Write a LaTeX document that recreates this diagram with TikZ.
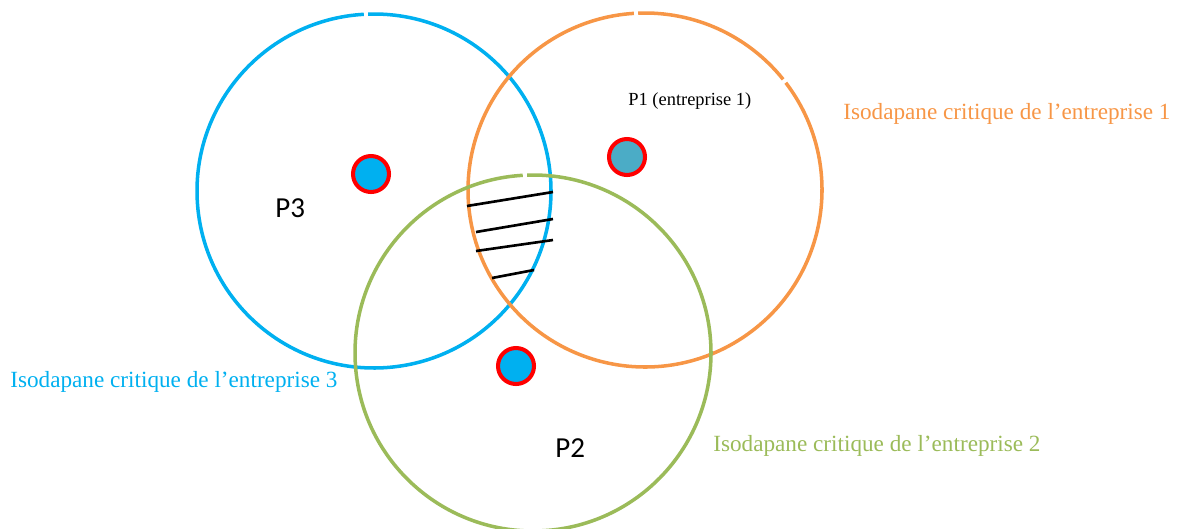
\documentclass[tikz,border=0pt]{standalone}
\usepackage{fontspec}
\setmainfont{Liberation Serif}
\newfontfamily\calibri{Carlito}
\definecolor{isoblue}{HTML}{00B0F0}
\definecolor{isoorange}{HTML}{F79646}
\definecolor{isogreen}{HTML}{9BBB59}
\definecolor{dotteal}{HTML}{4BACC6}
\tikzset{
  iso/.style={line width=2pt},
  site/.style={circle,draw=red,line width=2.3pt,minimum size=0.72cm,inner sep=0pt},
  isolabel/.style={anchor=base west,inner sep=0pt,font=\fontsize{13.2}{15}\selectfont},
  plabel/.style={anchor=base west,inner sep=0pt,font=\calibri\fontsize{16.5}{19}\selectfont}
}
\begin{document}
\begin{tikzpicture}[x=0.02cm,y=-0.02cm]
\useasboundingbox (0,0) rectangle (1185,528);
\clip (0,0) rectangle (1185,528);
% isodapanes
\draw [iso,isoblue] (374,191) ++(-91.9:177) arc [start angle=-91.9,end angle=266.7,radius=177];
\draw [iso,isoorange] (645,190) ++(-92.2:177) arc [start angle=-92.2,end angle=-38.7,radius=177];
\draw [iso,isoorange] (645,190) ++(-37.3:177) arc [start angle=-37.3,end angle=266.4,radius=177];
\draw [iso,isogreen] (533,353) ++(-91.9:178) arc [start angle=-91.9,end angle=266.7,radius=178];
% zone hachuree
\foreach \a/\b/\c/\d in {467/206/553/192, 476/232/553/219, 476/251/553/240, 492/278/534/270}{
\draw [line width=1.5pt] (\a,\b) -- (\c,\d);
}
% entreprises
\node [site,fill=isoblue] (s3) at (371,174) {};
\node [site,fill=dotteal] (s1) at (627,157) {};
\node [site,fill=isoblue] (s2) at (516,366) {};
\node [plabel] (p3) at (275,217) {P3};
\node [plabel] (p2) at (555,457) {P2};
\node [anchor=base west,inner sep=0pt,font=\fontsize{10.5}{12}\selectfont] (p1) at (628,105) {P1 (entreprise 1)};
\node [isolabel,isoorange] (l1) at (843,119) {Isodapane critique de l’entreprise 1};
\node [isolabel,isogreen] (l2) at (713,451) {Isodapane critique de l’entreprise 2};
\node [isolabel,isoblue] (l3) at (10,387) {Isodapane critique de l’entreprise 3};
\end{tikzpicture}
\end{document}
